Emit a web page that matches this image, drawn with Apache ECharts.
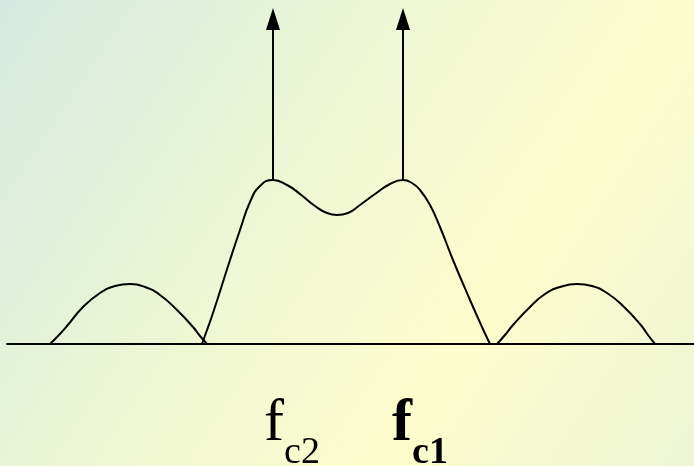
<!DOCTYPE html>
<html>
<head>
<meta charset="utf-8">
<script src="https://cdn.jsdelivr.net/npm/echarts@6/dist/echarts.min.js"></script>
<style>
    html, body { margin: 0; padding: 0; }
    #chart { width: 694px; height: 466px; }
</style>
</head>
<body>
<div id="chart"></div>
<script>
// spectrum: [frequency position, amplitude]
const leftLobe = [[50, 0], [58, 8], [67, 18], [83, 37], [100, 51], [115, 58], [130, 60], [145, 57], [160, 49], [177, 34], [193, 17], [200, 8], [207, 0]];
const mainLobe = [
    [202, 0], [207, 14], [213, 31], [230, 84], [240, 114], [250, 142], [260, 158], [273, 164],
    [287, 159], [300, 150], [315, 138], [327, 131], [337, 129], [348, 131], [360, 139],
    [375, 150], [390, 160], [403, 164], [412, 161], [420, 154], [430, 139], [440, 117],
    [453, 84], [470, 44], [482, 17], [490, 0]
];
const rightLobe = [[497, 0], [505, 9], [513, 19], [530, 37], [545, 50], [560, 57], [577, 60], [592, 58], [607, 51], [623, 38], [640, 20], [648, 9], [655, 0]];

// carriers (impulses)
const carriers = [273, 403];
const carrierBase = 164;
const carrierTop = 336;

// tick labels under the axis
const labelPos = [292, 420];
const labelText = ['{f|f}{s|c2}', '{fb|f}{sb|c1}'];

const chart = echarts.init(document.getElementById('chart'));

const lineStyle = { color: '#000', width: 2 };
const curve = (data) => ({
    type: 'line', data: data, smooth: 0.5, showSymbol: false, symbol: 'none',
    lineStyle: lineStyle, silent: true
});

const headH = 22;
const shafts = carriers.map(x => ({
    type: 'line', data: [[x, carrierBase], [x, carrierTop - headH + 2]],
    showSymbol: false, symbol: 'none', lineStyle: lineStyle, silent: true
}));

let option = {
    animation: false,
    backgroundColor: {
        type: 'linear', x: 0, y: 0, x2: 1, y2: 1,
        colorStops: [
            { offset: 0, color: '#d3e9e1' },
            { offset: 0.31, color: '#e8f4d6' },
            { offset: 0.5, color: '#f4f9d2' },
            { offset: 0.69, color: '#fdfdcc' },
            { offset: 1, color: '#edf5d6' }
        ]
    },
    grid: { left: 7, right: 0, top: 0, bottom: 122, outerBoundsMode: 'none', containLabel: false },
    xAxis: {
        type: 'value', min: 7, max: 694,
        splitLine: { show: false },
        axisTick: { show: false },
        axisLine: { show: true, lineStyle: { color: '#000', width: 2 } },
        axisLabel: {
            show: true,
            customValues: labelPos,
            margin: 50,
            formatter: (v) => labelText[labelPos.indexOf(v)] || '',
            rich: {
                f: { fontFamily: 'Liberation Serif', fontSize: 60, lineHeight: 60, color: '#000', verticalAlign: 'top' },
                s: { fontFamily: 'Liberation Serif', fontSize: 38, lineHeight: 38, color: '#000', verticalAlign: 'top', padding: [40, 0, 0, 0] },
                fb: { fontFamily: 'Liberation Serif', fontSize: 60, lineHeight: 60, fontWeight: 'bold', color: '#000', verticalAlign: 'top' },
                sb: { fontFamily: 'Liberation Serif', fontSize: 38, lineHeight: 38, fontWeight: 'bold', color: '#000', verticalAlign: 'top', padding: [40, 0, 0, 0] }
            }
        }
    },
    yAxis: { type: 'value', min: 0, max: 344, show: false },
    series: [
        curve(leftLobe),
        curve(mainLobe),
        curve(rightLobe),
        ...shafts,
        {
            type: 'scatter', symbol: 'triangle', symbolSize: [14, headH],
            itemStyle: { color: '#000', opacity: 1 }, silent: true,
            data: carriers.map(x => [x, carrierTop - headH / 2])
        }
    ]
};

chart.setOption(option);
</script>
</body>
</html>
